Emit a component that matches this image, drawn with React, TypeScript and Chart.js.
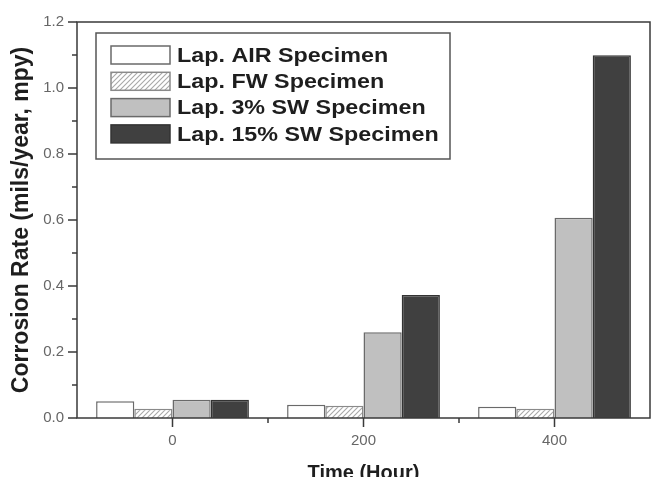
import React, { useEffect, useRef } from "react";
import { Chart, registerables } from "chart.js";

Chart.register(...registerables);

const times = [0, 200, 400];
const seriesLabels = [
  "Lap. AIR Specimen",
  "Lap. FW Specimen",
  "Lap. 3% SW Specimen",
  "Lap. 15% SW Specimen",
];
const airValues = [0.051, 0.04, 0.034];
const fwValues = [0.028, 0.037, 0.028];
const sw3Values = [0.055, 0.26, 0.607];
const sw15Values = [0.055, 0.373, 1.099];
const yTicks = [0, 0.2, 0.4, 0.6, 0.8, 1.0, 1.2];
const yTitle = "Corrosion Rate (mils/year, mpy)";
const xTitle = "Time (Hour)";

function makeHatch(): CanvasPattern | string {
  const c = document.createElement("canvas");
  c.width = 5;
  c.height = 5;
  const g = c.getContext("2d");
  if (!g) return "#ddd";
  g.fillStyle = "#ffffff";
  g.fillRect(0, 0, 5, 5);
  g.strokeStyle = "#a8a8a8";
  g.lineWidth = 1.1;
  g.beginPath();
  g.moveTo(-1, 6);
  g.lineTo(6, -1);
  g.moveTo(-1, 1);
  g.lineTo(1, -1);
  g.moveTo(4, 6);
  g.lineTo(6, 4);
  g.stroke();
  const p = g.createPattern(c, "repeat");
  return p || "#ddd";
}

const framePlugin = {
  id: "frameTicks",
  afterDraw(chart: any) {
    const { ctx, chartArea } = chart;
    const xs = chart.scales.x;
    const ys = chart.scales.y;
    ctx.save();
    ctx.strokeStyle = "#3a3a3a";
    ctx.lineWidth = 1.5;
    ctx.strokeRect(chartArea.left, chartArea.top, chartArea.right - chartArea.left, chartArea.bottom - chartArea.top);
    ctx.beginPath();
    for (let i = 0; i <= 12; i++) {
      const v = i / 10;
      const py = ys.getPixelForValue(v);
      const len = i % 2 === 0 ? 9 : 5;
      ctx.moveTo(chartArea.left - len, py);
      ctx.lineTo(chartArea.left, py);
    }
    for (let v = 0; v <= 400; v += 100) {
      const px = xs.getPixelForValue(v);
      const len = v % 200 === 0 ? 9 : 5;
      ctx.moveTo(px, chartArea.bottom);
      ctx.lineTo(px, chartArea.bottom + len);
    }
    ctx.stroke();
    ctx.restore();
  },
};

const legendPlugin = {
  id: "insideLegend",
  afterDraw(chart: any) {
    const { ctx, chartArea } = chart;
    const bx = chartArea.left + 19;
    const by = chartArea.top + 11;
    const bw = 354;
    const bh = 126;
    ctx.save();
    ctx.fillStyle = "#ffffff";
    ctx.fillRect(bx, by, bw, bh);
    ctx.strokeStyle = "#555";
    ctx.lineWidth = 1.5;
    ctx.strokeRect(bx, by, bw, bh);
    chart.data.datasets.forEach((ds: any, i: number) => {
      const cy = by + 22 + i * 26.3;
      const sx = bx + 15;
      ctx.fillStyle = ds.backgroundColor;
      ctx.fillRect(sx, cy - 9, 59, 18);
      ctx.strokeStyle = ds.borderColor;
      ctx.lineWidth = 1.5;
      ctx.strokeRect(sx, cy - 9, 59, 18);
      ctx.save();
      ctx.translate(bx + 81, cy + 1);
      ctx.scale(1.11, 1);
      ctx.fillStyle = "#1e1e1e";
      ctx.font = "bold 21px 'Liberation Sans', Arial, sans-serif";
      ctx.textBaseline = "middle";
      ctx.textAlign = "left";
      ctx.fillText(ds.label, 0, 0);
      ctx.restore();
    });
    ctx.restore();
  },
};

export default function App() {
  const ref = useRef<HTMLCanvasElement>(null);
  useEffect(() => {
    document.body.style.margin = "0";
    const canvas = ref.current;
    if (!canvas) return;
    const hatch = makeHatch();
    const seriesValues = [airValues, fwValues, sw3Values, sw15Values];
    const fills = ["#ffffff", hatch, "#c0c0c0", "#404040"];
    const borders = ["#6a6a6a", "#8a8a8a", "#6a6a6a", "#333333"];
    const chart = new Chart(canvas, {
      type: "bar",
      data: {
        datasets: seriesValues.map((vals, i) => ({
          label: seriesLabels[i],
          data: times.map((t, j) => ({ x: t, y: vals[j] })),
          backgroundColor: fills[i] as any,
          borderColor: borders[i],
          borderWidth: 1.5,
          categoryPercentage: 0.8,
          barPercentage: 1.0,
        })),
      },
      options: {
        animation: false,
        responsive: false,
        maintainAspectRatio: false,
        layout: { padding: { top: 15, right: 12, left: 0, bottom: 0 } },
        plugins: { legend: { display: false }, tooltip: { enabled: false } },
        scales: {
          x: {
            type: "linear",
            min: -100,
            max: 500,
            offset: false,
            grid: { display: false, drawTicks: false },
            border: { display: false },
            afterBuildTicks: (s: any) => {
              s.ticks = times.map((t) => ({ value: t }));
            },
            afterFit: (s: any) => {
              s.height = 59;
            },
            ticks: {
              padding: 14,
              color: "#666",
              font: { family: "'Liberation Sans', Arial, sans-serif", size: 15 },
              callback: (v: any) => String(v),
            },
            title: {
              display: true,
              text: xTitle,
              color: "#1e1e1e",
              font: { family: "'Liberation Sans', Arial, sans-serif", size: 20, weight: "bold" },
              padding: { top: 0, bottom: -8 },
            },
          },
          y: {
            min: 0,
            max: 1.2,
            grid: { display: false, drawTicks: false },
            border: { display: false },
            afterBuildTicks: (s: any) => {
              s.ticks = yTicks.map((t) => ({ value: t }));
            },
            afterFit: (s: any) => {
              s.width = 77;
            },
            ticks: {
              padding: 13,
              color: "#666",
              font: { family: "'Liberation Sans', Arial, sans-serif", size: 15 },
              callback: (v: any) => Number(v).toFixed(1),
            },
            title: {
              display: true,
              text: yTitle,
              color: "#1e1e1e",
              font: { family: "'Liberation Sans', Arial, sans-serif", size: 23, weight: "bold" },
              padding: { top: 8, bottom: 0 },
            },
          },
        },
      },
      plugins: [framePlugin, legendPlugin],
    } as any);
    return () => chart.destroy();
  }, []);
  return (
    <div style={{ width: 662, height: 477 }}>
      <canvas ref={ref} width={662} height={477} />
    </div>
  );
}
